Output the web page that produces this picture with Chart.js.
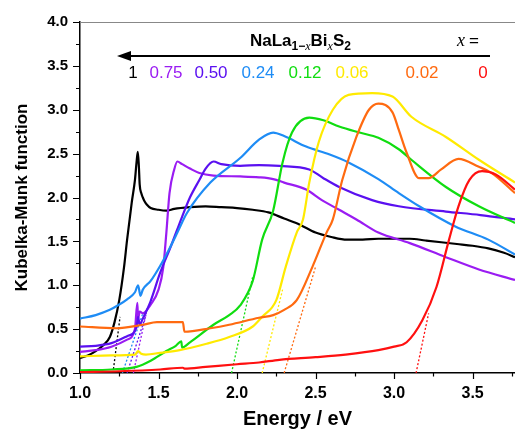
<!DOCTYPE html>
<html>
<head>
<meta charset="utf-8">
<script src="https://cdn.jsdelivr.net/npm/chart.js@4.4.1/dist/chart.umd.min.js"></script>
<style>
  html, body { margin: 0; padding: 0; background: #fff; }
  #wrap { width: 515px; height: 433px; }
</style>
</head>
<body>
<div id="wrap"><canvas id="kmChart" width="515" height="433"></canvas></div>
<script>
// tick labels
const xTicks = [1.0, 1.5, 2.0, 2.5, 3.0, 3.5];
const yTicks = [0.0, 0.5, 1.0, 1.5, 2.0, 2.5, 3.0, 3.5, 4.0];

// x = 1
const e100 = [1.00,1.05,1.10,1.15,1.19,1.22,1.25,1.28,1.30,1.33,1.35,1.36,1.368,1.375,1.38,1.39,1.40,1.41,1.425,1.45,1.50,1.55,1.60,1.70,1.80,1.90,2.00,2.10,2.20,2.30,2.40,2.50,2.60,2.70,2.80,2.90,3.00,3.10,3.20,3.30,3.40,3.50,3.60,3.70,3.77];
const k100 = [0.17,0.20,0.25,0.32,0.41,0.58,0.83,1.20,1.52,1.95,2.20,2.40,2.52,2.35,2.15,2.05,2.00,1.96,1.92,1.88,1.86,1.85,1.87,1.89,1.90,1.89,1.88,1.86,1.83,1.76,1.69,1.60,1.55,1.52,1.52,1.53,1.53,1.53,1.51,1.49,1.47,1.45,1.42,1.37,1.32];
// x = 0.75
const e075 = [1.00,1.10,1.20,1.30,1.35,1.365,1.37,1.38,1.40,1.45,1.50,1.53,1.55,1.57,1.60,1.62,1.65,1.70,1.76,1.85,2.02,2.14,2.23,2.30,2.44,2.54,2.65,2.76,2.90,3.10,3.33,3.54,3.77];
const k075 = [0.24,0.26,0.30,0.38,0.50,0.80,0.62,0.70,0.68,0.78,0.95,1.20,1.60,2.05,2.32,2.41,2.38,2.33,2.28,2.25,2.24,2.23,2.21,2.17,2.09,1.97,1.86,1.75,1.60,1.48,1.32,1.18,1.06];
// x = 0.50
const e050 = [1.00,1.10,1.20,1.30,1.36,1.37,1.38,1.40,1.45,1.51,1.58,1.65,1.70,1.76,1.80,1.85,1.90,2.02,2.14,2.27,2.46,2.55,2.65,2.86,3.03,3.33,3.55,3.77];
const k050 = [0.30,0.31,0.34,0.42,0.52,0.64,0.55,0.62,0.82,1.14,1.45,1.78,2.00,2.20,2.33,2.41,2.38,2.36,2.37,2.36,2.32,2.22,2.12,1.97,1.90,1.84,1.80,1.75];
// x = 0.24
const e024 = [1.00,1.10,1.19,1.25,1.30,1.35,1.37,1.385,1.40,1.45,1.51,1.57,1.62,1.68,1.83,2.02,2.14,2.23,2.30,2.44,2.59,2.71,2.90,3.03,3.16,3.39,3.60,3.77];
const k024 = [0.62,0.66,0.72,0.78,0.84,0.92,1.00,0.88,0.95,1.05,1.22,1.42,1.60,1.82,2.17,2.45,2.66,2.74,2.70,2.58,2.49,2.40,2.21,2.05,1.90,1.67,1.52,1.35];
// x = 0.12
const e012 = [1.00,1.20,1.36,1.45,1.55,1.61,1.645,1.65,1.70,1.85,1.95,2.02,2.10,2.16,2.23,2.29,2.35,2.46,2.55,2.65,2.78,2.90,3.03,3.11,3.33,3.54,3.77];
const k012 = [0.03,0.04,0.07,0.14,0.25,0.31,0.36,0.29,0.35,0.55,0.66,0.77,1.05,1.52,1.85,2.40,2.74,2.91,2.88,2.81,2.74,2.68,2.55,2.43,2.12,1.90,1.71];
// x = 0.06
const e006 = [1.00,1.20,1.35,1.37,1.39,1.42,1.51,1.635,1.80,1.95,2.10,2.16,2.25,2.31,2.38,2.42,2.46,2.52,2.61,2.71,2.86,2.99,3.11,3.33,3.54,3.77];
const k006 = [0.19,0.20,0.21,0.25,0.22,0.21,0.23,0.26,0.33,0.41,0.53,0.64,0.83,1.21,1.60,1.75,2.17,2.63,3.00,3.17,3.19,3.15,2.92,2.69,2.43,2.17];
// x = 0.02
const e002 = [1.00,1.23,1.40,1.49,1.60,1.655,1.665,1.83,1.95,2.14,2.23,2.30,2.38,2.48,2.57,2.61,2.67,2.76,2.84,2.90,2.99,3.03,3.08,3.16,3.22,3.30,3.41,3.54,3.62,3.77];
const k002 = [0.53,0.51,0.55,0.58,0.58,0.58,0.47,0.51,0.55,0.63,0.66,0.72,0.83,1.21,1.60,1.75,2.20,2.69,3.00,3.07,2.97,2.77,2.51,2.22,2.22,2.32,2.44,2.35,2.28,2.05];
// x = 0
const e000 = [1.00,1.25,1.51,1.655,1.665,1.80,2.00,2.14,2.27,2.50,2.69,2.90,3.00,3.08,3.18,3.27,3.35,3.41,3.48,3.56,3.65,3.77];
const k000 = [0.01,0.02,0.04,0.06,0.05,0.07,0.10,0.12,0.15,0.18,0.21,0.26,0.30,0.35,0.60,0.98,1.52,1.90,2.20,2.30,2.26,2.09];

// band-gap tangent lines: E at K=0, E at top end, K at top end
const fitE0 = [1.21, 1.34, 1.30, 1.27, 1.965, 2.16, 2.30, 3.14];
const fitE1 = [1.255, 1.43, 1.42, 1.40, 2.10, 2.29, 2.50, 3.22];
const fitK1 = [0.64, 0.75, 0.66, 0.68, 1.10, 0.95, 1.21, 0.68];

const xLabels = ['1', '0.75', '0.50', '0.24', '0.12', '0.06', '0.02', '0'];
const colors = ['#000000', '#9A1CF2', '#5A10F0', '#1E8CF5', '#10DD10', '#FFEA00', '#FF6A10', '#FF1010'];

const curves = [[e100, k100], [e075, k075], [e050, k050], [e024, k024], [e012, k012], [e006, k006], [e002, k002], [e000, k000]];

function pts(xs, ys) {
    return xs.map((v, i) => ({ x: v, y: ys[i] }));
}

const datasets = [];
// x=0 first, x=1 last so black ends up on top
for (let i = curves.length - 1; i >= 0; i--) {
    datasets.push({
        label: 'x = ' + xLabels[i],
        data: pts(curves[i][0], curves[i][1]),
        borderColor: colors[i],
        borderWidth: 2.2,
        pointRadius: 0,
        cubicInterpolationMode: 'monotone'
    });
}
fitE0.forEach((e0, i) => {
    datasets.push({
        label: 'fit ' + xLabels[i],
        data: [{ x: e0, y: 0 }, { x: fitE1[i], y: fitK1[i] }],
        borderColor: colors[i],
        borderWidth: 1.3,
        borderDash: [2, 2],
        pointRadius: 0
    });
});

const fontFam = '"Liberation Sans", Arial, sans-serif';

// minor ticks, top frame, the NaLa(1-x)Bi(x)S2 note and arrow
const extras = {
    id: 'extras',
    afterDraw(chart) {
        const ctx = chart.ctx;
        const a = chart.chartArea;
        const xs = chart.scales.x, ys = chart.scales.y;
        ctx.save();
        ctx.strokeStyle = '#000';
        ctx.lineWidth = 1.2;
        ctx.beginPath();
        for (let v = 1.0; v <= 3.77; v += 0.25) {
            const px = Math.round(xs.getPixelForValue(v)) + 0.5;
            const major = Math.abs(v * 2 - Math.round(v * 2)) < 1e-6;
            ctx.moveTo(px, a.bottom);
            ctx.lineTo(px, a.bottom + (major ? 6 : 3.5));
        }
        for (let v = 0; v <= 4.0001; v += 0.25) {
            const py = Math.round(ys.getPixelForValue(v)) + 0.5;
            const major = Math.abs(v * 2 - Math.round(v * 2)) < 1e-6;
            ctx.moveTo(a.left, py);
            ctx.lineTo(a.left - (major ? 7 : 4), py);
        }
        ctx.stroke();
        ctx.strokeStyle = '#888';
        ctx.lineWidth = 1.2;
        ctx.beginPath();
        ctx.moveTo(a.left, a.top + 0.5);
        ctx.lineTo(a.right, a.top + 0.5);
        ctx.stroke();

        // formula with subscripts
        const runs = [
            ['NaLa', 'bold 17px ' + fontFam, 0],
            ['1\u2212', 'bold 12px ' + fontFam, 4],
            ['x', 'italic 12px "Liberation Serif", serif', 4],
            ['Bi', 'bold 17px ' + fontFam, 0],
            ['x', 'italic 12px "Liberation Serif", serif', 4],
            ['S', 'bold 17px ' + fontFam, 0],
            ['2', 'bold 12px ' + fontFam, 4]
        ];
        ctx.fillStyle = '#000';
        ctx.textBaseline = 'alphabetic';
        ctx.textAlign = 'left';
        let cx = 250;
        runs.forEach(r => {
            ctx.font = r[1];
            ctx.fillText(r[0], cx, 46 + r[2]);
            cx += ctx.measureText(r[0]).width;
        });
        ctx.font = 'italic 18px "Liberation Serif", serif';
        ctx.fillText('x', 457, 46);
        ctx.font = '17px ' + fontFam;
        ctx.fillText('=', 469, 46);

        // arrow
        ctx.strokeStyle = '#000';
        ctx.lineWidth = 2;
        ctx.beginPath();
        ctx.moveTo(126, 56);
        ctx.lineTo(490, 56);
        ctx.stroke();
        ctx.beginPath();
        ctx.moveTo(117, 56);
        ctx.lineTo(131, 51);
        ctx.lineTo(131, 61);
        ctx.closePath();
        ctx.fill();

        const labelX = [133, 166, 211, 258, 305, 352, 422, 483];
        ctx.font = '17px ' + fontFam;
        ctx.textAlign = 'center';
        xLabels.forEach((t, i) => {
            ctx.fillStyle = colors[i];
            ctx.fillText(t, labelX[i], 78);
        });
        ctx.restore();
    }
};

new Chart(document.getElementById('kmChart').getContext('2d'), {
    type: 'line',
    data: { datasets: datasets },
    options: {
        responsive: false,
        animation: false,
        events: [],
        layout: { padding: { top: 22, right: 0, left: 0, bottom: 0 } },
        plugins: { legend: { display: false }, tooltip: { enabled: false } },
        scales: {
            x: {
                type: 'linear',
                min: 1.0,
                max: 3.77,
                afterBuildTicks: s => { s.ticks = xTicks.map(v => ({ value: v })); },
                afterFit: s => { s.height = 60; },
                grid: { display: false, drawTicks: false },
                border: { display: true, color: '#000', width: 1.5 },
                ticks: {
                    padding: 11,
                    color: '#000',
                    font: { family: fontFam, size: 16, weight: 'bold' },
                    callback: v => v.toFixed(1)
                },
                title: {
                    display: true,
                    text: 'Energy / eV',
                    color: '#000',
                    font: { family: fontFam, size: 20, weight: 'bold' },
                    padding: { top: 0, bottom: 2 }
                }
            },
            y: {
                min: 0,
                max: 4,
                afterBuildTicks: s => { s.ticks = yTicks.map(v => ({ value: v })); },
                afterFit: s => { s.width = 80; },
                grid: { display: false, drawTicks: false },
                border: { display: true, color: '#000', width: 1.5 },
                ticks: {
                    padding: 12,
                    color: '#000',
                    font: { family: fontFam, size: 15, weight: 'bold' },
                    callback: v => v.toFixed(1)
                },
                title: {
                    display: true,
                    text: 'Kubelka-Munk function',
                    color: '#000',
                    font: { family: fontFam, size: 17, weight: 'bold' },
                    padding: { top: 12, bottom: 0 }
                }
            }
        }
    },
    plugins: [extras]
});
</script>
</body>
</html>
